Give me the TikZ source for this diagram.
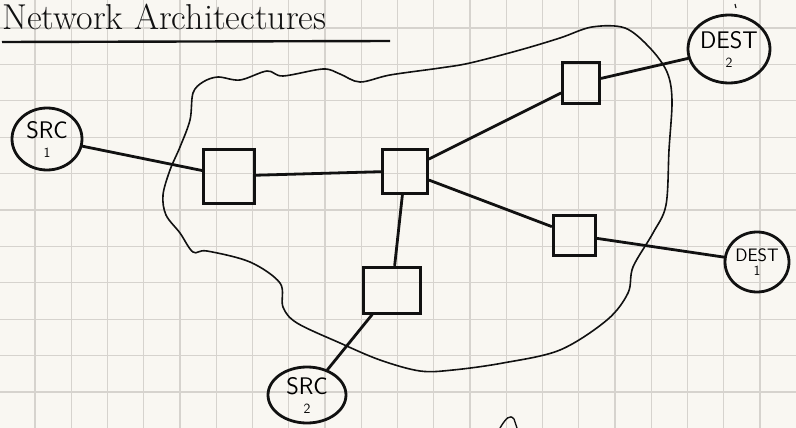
\documentclass[tikz,border=0pt]{standalone}
\usepackage{tikz}
\usetikzlibrary{shapes.geometric}
\definecolor{paper}{HTML}{F9F7F2}
\definecolor{gridline}{HTML}{D6D3CE}
\definecolor{ink}{HTML}{111111}
\newcommand{\TitleFont}{\fontsize{36}{40}\selectfont}
\newcommand{\HostFont}{\sffamily\fontsize{24}{22}\selectfont}
\newcommand{\SubFont}{\fontsize{14}{14}\selectfont}

\begin{document}
\begin{tikzpicture}[x=1pt,y=-1pt,
    router/.style={draw=ink,line width=3pt,inner sep=0pt},
    host/.style={ellipse,draw=ink,line width=2.8pt,inner sep=0pt,align=center,font=\HostFont},
    link/.style={ink,line width=2.8pt,line cap=round},
    cloudline/.style={ink,line width=1.6pt}]
          \fill[paper] (0,0) rectangle (796,428);
          \useasboundingbox (0,0) rectangle (796,428);
          % squared paper
          \foreach \gx in {-1,...,21}
            \draw[gridline,line width=1.2pt] ({35+36.25*\gx},0) -- ({35+36.25*\gx},428);
          \foreach \gy in {-1,...,11}
            \draw[gridline,line width=1.2pt] (0,{28+36.4*\gy}) -- (796,{28+36.4*\gy});
          % title
          \node[ink,anchor=base west,inner sep=0pt] (title) at (2,30) {\TitleFont Network Architectures};
          \draw[ink,line width=2.4pt] (2,42) -- (390,41);
          % the network cloud
          \draw[cloudline] plot[smooth cycle,tension=0.55] coordinates {
            (218,77) (240,80) (267,71) (283,76) (323,69) (340,74) (360,82) (390,75)
            (440,68) (470,63) (520,50) (560,38) (592,27) (625,28) (650,48) (667,72)
            (672,100) (669,150) (666,205) (653,233) (633,267) (628,293) (607,320)
            (560,350) (503,363) (453,370) (420,371) (380,360) (340,343) (297,323)
            (283,307) (280,283) (250,262) (207,251) (193,252) (180,233) (166,215)
            (163,195) (170,170) (180,147) (190,120) (193,93) (203,82)};
          % routers
          \node[router,minimum width=51pt,minimum height=54pt] (ra) at (229,176) {};
          \node[router,minimum width=45pt,minimum height=44pt] (rb) at (405,171) {};
          \node[router,minimum width=37pt,minimum height=41pt] (rc) at (581,83) {};
          \node[router,minimum width=42pt,minimum height=40pt] (rd) at (574,235) {};
          \node[router,minimum width=57pt,minimum height=46pt] (re) at (392,290) {};
          % end hosts
          \node[host,minimum width=70pt,minimum height=62pt] (src1) at (47,139) {SRC\\[-3pt]{\SubFont 1}};
          \node[host,minimum width=78pt,minimum height=56pt] (src2) at (307,395) {SRC\\[-3pt]{\SubFont 2}};
          \node[host,minimum width=82pt,minimum height=68pt] (dest2) at (729,49) {DEST\\[-3pt]{\SubFont 2}};
          \node[host,minimum width=64pt,minimum height=60pt,font=\sffamily\fontsize{18}{17}\selectfont] (dest1) at (757,262) {DEST\\[-3pt]{\SubFont 1}};
          % links
          \draw[link] (src1) -- (ra);
          \draw[link] (ra) -- (rb);
          \draw[link] (rb) -- (rc);
          \draw[link] (rc) -- (dest2);
          \draw[link] (rb) -- (rd);
          \draw[link] (rd) -- (dest1);
          \draw[link] (rb) -- (re);
          \draw[link] (re) -- (src2);
          % stray pen marks
          \draw[ink,line width=1.2pt] (735,4) -- (736,8);
          \draw[ink,line width=1.4pt] (500,428) .. controls (506,418) and (510,414) .. (514,419) -- (517,428);
        \end{tikzpicture}
\end{document}
